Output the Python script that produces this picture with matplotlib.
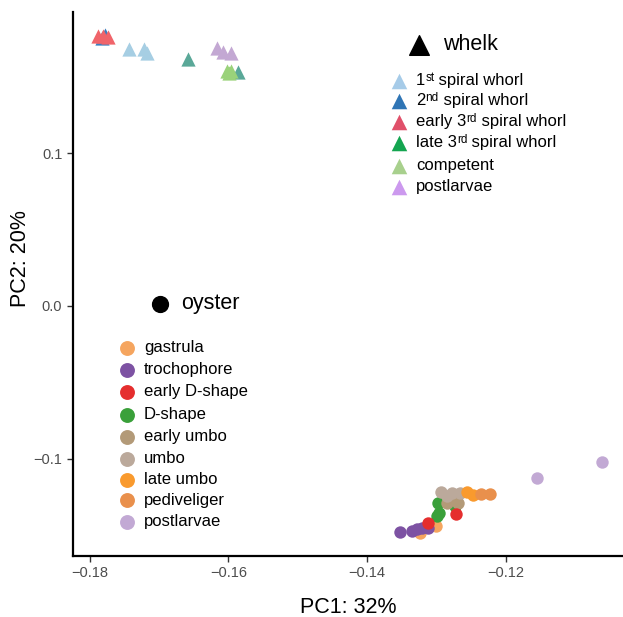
import matplotlib
matplotlib.use("Agg")
import matplotlib.pyplot as plt

plt.rcParams['font.family'] = ['Liberation Sans', 'DejaVu Sans']

# whelk samples (triangles); labels split as (text, superscript, rest)
whelk_labels = [('1', 'st', ' spiral whorl'), ('2', 'nd', ' spiral whorl'),
                ('early 3', 'rd', ' spiral whorl'), ('late 3', 'rd', ' spiral whorl'),
                ('competent', '', ''), ('postlarvae', '', '')]
whelk_point_colors = ['#a6cee3', '#3a7fbf', '#f0646a', '#5aa898', '#9ad27a', '#c3a8d3']
whelk_key_colors = ['#a6cbe8', '#2f75b5', '#e0506a', '#14a550', '#a8d08d', '#cc99ee']
whelk_x = [[-0.1743, -0.1722, -0.1718],
           [-0.1778, -0.1782],
           [-0.1788, -0.1781, -0.1774],
           [-0.1658, -0.1586],
           [-0.1602, -0.1596, -0.1599],
           [-0.1617, -0.1608, -0.1596]]
whelk_y = [[0.1683, 0.1683, 0.1657],
           [0.1772, 0.1755],
           [0.1770, 0.1765, 0.1763],
           [0.1618, 0.1532],
           [0.1539, 0.1539, 0.1526],
           [0.1690, 0.1663, 0.1657]]

# oyster samples (circles)
oyster_labels = ['gastrula', 'trochophore', 'early D-shape', 'D-shape', 'early umbo',
                 'umbo', 'late umbo', 'pediveliger', 'postlarvae']
oyster_colors = ['#f5a55f', '#7d52a3', '#e52e2e', '#3aa03a', '#b39a78',
                 '#bba99b', '#f99a2e', '#e9904c', '#c2a9d4']
oyster_x = [[-0.1323, -0.1300],
            [-0.1353, -0.1335, -0.1328, -0.1321, -0.1312],
            [-0.1312, -0.1272],
            [-0.1297, -0.1296, -0.1299, -0.1273],
            [-0.1285, -0.1268, -0.1273],
            [-0.1293, -0.1278, -0.1266, -0.1285],
            [-0.1255, -0.1247],
            [-0.1235, -0.1223],
            [-0.1155, -0.1061]]
oyster_y = [[-0.1489, -0.1439],
            [-0.1478, -0.1472, -0.1462, -0.1452, -0.1456],
            [-0.1419, -0.1364],
            [-0.1288, -0.1354, -0.1375, -0.1310],
            [-0.1288, -0.1292, -0.1270],
            [-0.1220, -0.1227, -0.1227, -0.1244],
            [-0.1216, -0.1238],
            [-0.1233, -0.1233],
            [-0.1128, -0.1024]]
oyster_order = [0, 1, 3, 4, 5, 2, 6, 7, 8]

fig = plt.figure(figsize=(6.23, 6.17), dpi=100)
ax = fig.add_axes([0.1167, 0.0989, 0.8833, 0.8817])

for i in range(len(whelk_labels)):
    ax.scatter(whelk_x[i], whelk_y[i], marker='^', s=105, color=whelk_point_colors[i],
               linewidths=0, zorder=3)
for i in oyster_order:
    ax.scatter(oyster_x[i], oyster_y[i], marker='o', s=80, color=oyster_colors[i],
               linewidths=0, zorder=3)

ax.set_xlim(-0.18247, -0.10306)
ax.set_ylim(-0.1637, 0.19253)
ax.set_xticks([-0.18, -0.16, -0.14, -0.12])
ax.set_xticklabels(['\u22120.18', '\u22120.16', '\u22120.14', '\u22120.12'])
ax.set_yticks([-0.1, 0.0, 0.1])
ax.set_yticklabels(['\u22120.1', '0.0', '0.1'])
ax.tick_params(labelsize=10.5, labelcolor='#4d4d4d', color='#333333', length=4, width=1)
for side in ['top', 'right']:
    ax.spines[side].set_visible(False)
for side in ['left', 'bottom']:
    ax.spines[side].set_linewidth(1.6)
ax.set_xlabel('PC1: 32%', fontsize=15.5, labelpad=12)
ax.set_ylabel('PC2: 20%', fontsize=15.5)
ax.yaxis.set_label_coords(-0.076, 0.546)

# hand-made keys in axes fraction
tr = ax.transAxes
ax.scatter([0.6293], [0.9393], marker='^', s=200, color='black', transform=tr, clip_on=False)
ax.text(0.6729, 0.9393, 'whelk', fontsize=15.5, va='center', transform=tr)
whelk_rows = [0.8732, 0.8364, 0.7978, 0.7592, 0.7169, 0.6783]
for (base, sup, rest), col, ry in zip(whelk_labels, whelk_key_colors, whelk_rows):
    ax.scatter([0.5930], [ry], marker='^', s=125, color=col, linewidths=0, transform=tr)
    t1 = ax.text(0.6239, ry, base, fontsize=12, va='center', transform=tr)
    if sup:
        t2 = ax.annotate(sup, xy=(1, 0.5), xycoords=t1, fontsize=8.5, va='baseline')
        ax.annotate(rest, xy=(1, 0.5), xycoords=(t2, t1), fontsize=12, va='center')

ax.scatter([0.1587], [0.4632], marker='o', s=130, color='black', transform=tr)
ax.text(0.1968, 0.4632, 'oyster', fontsize=15.5, va='center', transform=tr)
oyster_rows = [0.3824, 0.3419, 0.3015, 0.2592, 0.2188, 0.1783, 0.1397, 0.1029, 0.0625]
for lab, col, ry in zip(oyster_labels, oyster_colors, oyster_rows):
    ax.scatter([0.0987], [ry], marker='o', s=115, color=col, linewidths=0, transform=tr)
    ax.text(0.1296, ry, lab, fontsize=12, va='center', transform=tr)

fig.savefig('out.png', dpi=100)
